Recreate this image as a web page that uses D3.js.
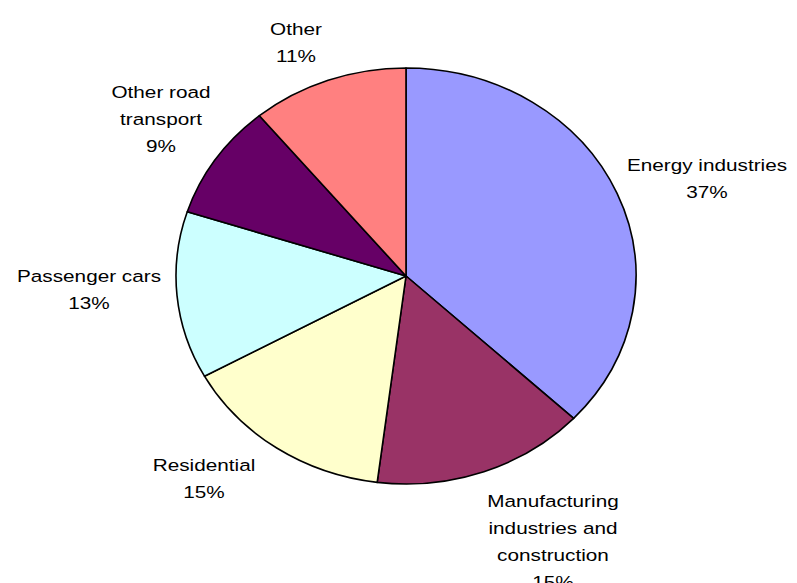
<!DOCTYPE html>
<html>
<head>
<meta charset="utf-8">
<script src="https://cdn.jsdelivr.net/npm/d3@7"></script>
<style>
  html, body { margin: 0; padding: 0; background: #fff; }
  svg { display: block; }
  text { font-family: "Liberation Sans", Arial, sans-serif; font-size: 17px; fill: #000; }
</style>
</head>
<body>
<svg id="chart" width="797" height="583"></svg>
<script>
// Emission shares by source sector (percent), clockwise from 12 o'clock
const sectors = ["Energy industries", "Manufacturing industries and construction", "Residential", "Passenger cars", "Other road transport", "Other"];
const shares = [37, 15, 15, 13, 9, 11];
const colors = ["#9999FF", "#993366", "#FFFFCC", "#CCFFFF", "#660066", "#FF8080"];
// Label text broken into lines, and where each label block sits
const labelLines = [
  ["Energy industries"],
  ["Manufacturing", "industries and", "construction"],
  ["Residential"],
  ["Passenger cars"],
  ["Other road", "transport"],
  ["Other"]
];
const labelAnchors = [[707, 171], [553, 507], [204, 471], [89, 282], [161, 98], [296, 35]];

const svg = d3.select("#chart");
const cx = 406, cy = 276, rx = 230, ry = 208;
const lineGap = 27;
const stretchX = 1.22;

const pie = d3.pie().sort(null).value(d => d).startAngle(0).endAngle(2 * Math.PI);
const arc = d3.arc().innerRadius(0).outerRadius(rx);
const arcs = pie(shares);

const pieG = svg.append("g")
  .attr("transform", `translate(${cx},${cy}) scale(1,${ry / rx})`);

pieG.selectAll("path")
  .data(arcs)
  .join("path")
  .attr("d", arc)
  .attr("fill", (d, i) => colors[i])
  .attr("stroke", "#000")
  .attr("stroke-width", 1.6)
  .attr("stroke-linejoin", "round")
  .attr("vector-effect", "non-scaling-stroke");

// Sector name plus percentage, centred line by line
const labels = svg.append("g");
arcs.forEach((a, i) => {
  const [lx, ly] = labelAnchors[i];
  const lines = labelLines[i].concat([`${shares[i]}%`]);
  const g = labels.append("g").attr("transform", `translate(${lx},${ly}) scale(${stretchX},1)`);
  g.selectAll("text")
    .data(lines)
    .join("text")
    .attr("x", 0)
    .attr("y", (d, j) => j * lineGap)
    .attr("text-anchor", "middle")
    .text(d => d);
});
</script>
</body>
</html>
